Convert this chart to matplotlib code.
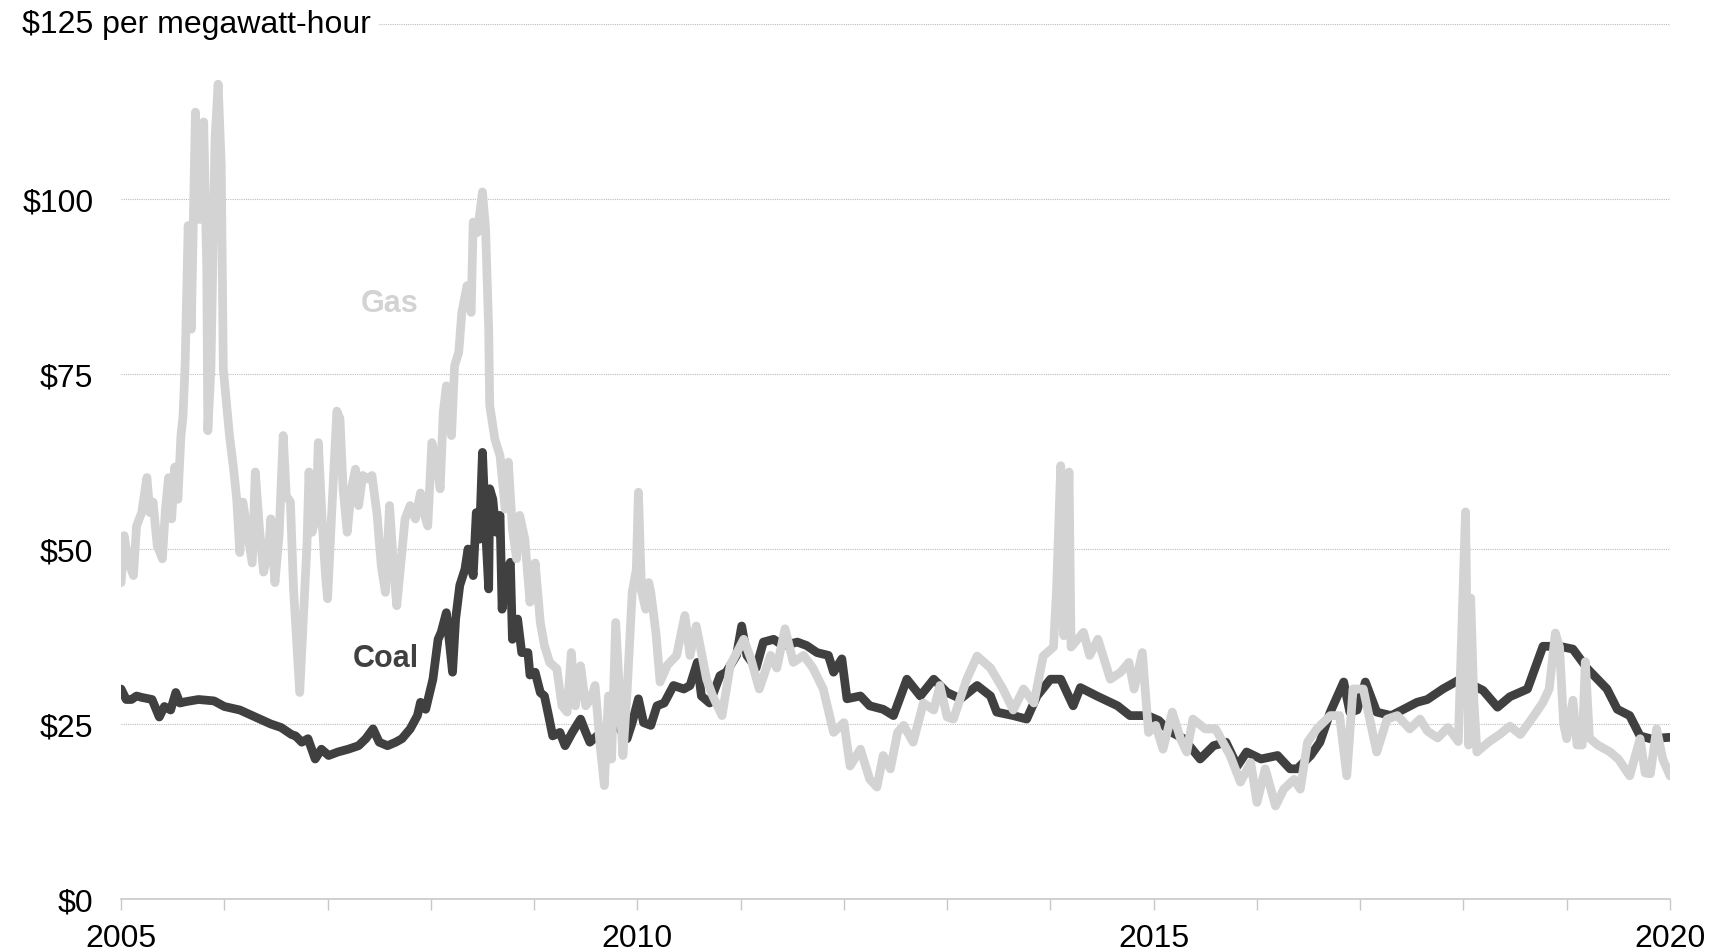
import matplotlib.pyplot as plt
import numpy as np

plt.rcParams['font.family'] = ['Liberation Sans', 'DejaVu Sans']

# values (year, $ per MWh)
gas_years = [
    2005.00, 2005.03, 2005.07, 2005.12, 2005.15, 2005.20, 2005.25, 2005.28, 2005.31, 2005.35,
    2005.40, 2005.43, 2005.46, 2005.49, 2005.52, 2005.55, 2005.58, 2005.60, 2005.62, 2005.65,
    2005.68, 2005.70, 2005.72, 2005.74, 2005.77, 2005.80, 2005.83, 2005.84, 2005.87, 2005.89,
    2005.91, 2005.94, 2005.97, 2005.99, 2006.02, 2006.05, 2006.09, 2006.12, 2006.15, 2006.18,
    2006.23, 2006.27, 2006.30, 2006.34, 2006.38, 2006.43, 2006.45, 2006.49, 2006.53, 2006.57,
    2006.60, 2006.64, 2006.67, 2006.73, 2006.76, 2006.80, 2006.82, 2006.85, 2006.89, 2006.91,
    2006.95, 2006.98, 2007.00, 2007.04, 2007.09, 2007.12, 2007.15, 2007.19, 2007.23, 2007.27,
    2007.30, 2007.34, 2007.39, 2007.43, 2007.48, 2007.52, 2007.56, 2007.60, 2007.64, 2007.67,
    2007.71, 2007.75, 2007.80, 2007.85, 2007.90, 2007.94, 2007.97, 2008.01, 2008.06, 2008.09,
    2008.12, 2008.15, 2008.20, 2008.23, 2008.27, 2008.30, 2008.35, 2008.39, 2008.41, 2008.45,
    2008.50, 2008.53, 2008.56, 2008.57, 2008.62, 2008.67, 2008.72, 2008.75, 2008.79, 2008.83,
    2008.86, 2008.91, 2008.96, 2009.01, 2009.06, 2009.10, 2009.15, 2009.22, 2009.27, 2009.32,
    2009.36, 2009.40, 2009.45, 2009.50, 2009.55, 2009.59, 2009.64, 2009.68, 2009.72, 2009.75,
    2009.79, 2009.83, 2009.86, 2009.90, 2009.95, 2009.99, 2010.01, 2010.04, 2010.08, 2010.11,
    2010.13, 2010.18, 2010.22, 2010.29, 2010.38, 2010.46, 2010.51, 2010.57, 2010.67, 2010.73,
    2010.82, 2010.90, 2011.03, 2011.10, 2011.18, 2011.29, 2011.35, 2011.43, 2011.51, 2011.61,
    2011.70, 2011.80, 2011.90, 2012.00, 2012.06, 2012.16, 2012.25, 2012.32, 2012.38, 2012.45,
    2012.52, 2012.58, 2012.67, 2012.77, 2012.87, 2012.93, 2013.00, 2013.06, 2013.19, 2013.29,
    2013.42, 2013.54, 2013.64, 2013.74, 2013.84, 2013.93, 2014.03, 2014.06, 2014.10, 2014.13,
    2014.18, 2014.20, 2014.32, 2014.38, 2014.46, 2014.58, 2014.68, 2014.76, 2014.81, 2014.89,
    2014.95, 2015.02, 2015.09, 2015.18, 2015.26, 2015.32, 2015.38, 2015.50, 2015.60, 2015.74,
    2015.84, 2015.94, 2016.00, 2016.08, 2016.18, 2016.26, 2016.36, 2016.42, 2016.49, 2016.58,
    2016.71, 2016.80, 2016.87, 2016.93, 2017.03, 2017.16, 2017.26, 2017.36, 2017.48, 2017.58,
    2017.65, 2017.75, 2017.85, 2017.95, 2018.02, 2018.05, 2018.07, 2018.10, 2018.13, 2018.25,
    2018.35, 2018.45, 2018.55, 2018.65, 2018.72, 2018.77, 2018.83, 2018.89, 2018.93, 2018.97,
    2019.00, 2019.06, 2019.10, 2019.15, 2019.18, 2019.22, 2019.30, 2019.42, 2019.50, 2019.61,
    2019.71, 2019.76, 2019.81, 2019.87, 2019.93, 2020.00,
]
gas_values = [
    45.2, 51.9, 48.1, 46.2, 53.3, 55.2, 60.2, 55.2, 56.7, 50.5,
    48.6, 55.7, 60.2, 54.3, 61.7, 57.1, 66.2, 69.0, 76.2, 96.2,
    81.4, 96.7, 112.4, 97.1, 97.1, 111.0, 90.0, 66.9, 75.7, 92.4,
    108.6, 116.4, 104.8, 75.7, 71.0, 66.2, 61.4, 57.1, 49.5, 56.7,
    51.9, 48.0, 61.0, 52.9, 46.7, 50.0, 54.3, 45.2, 51.9, 66.2,
    57.6, 56.7, 44.3, 29.5, 38.6, 50.5, 61.0, 52.4, 54.8, 65.2,
    53.3, 46.2, 42.9, 55.2, 69.7, 68.6, 58.6, 52.4, 58.6, 61.4,
    56.2, 60.5, 60.0, 60.5, 54.8, 47.6, 43.8, 56.2, 47.1, 41.9,
    48.1, 54.3, 56.2, 54.3, 58.0, 54.8, 53.3, 65.2, 61.9, 58.6,
    69.5, 73.3, 66.2, 76.2, 78.1, 83.8, 87.6, 83.8, 96.7, 95.2,
    101.0, 95.7, 81.4, 70.5, 65.7, 63.3, 55.7, 62.4, 52.9, 48.6,
    54.8, 51.4, 42.4, 48.0, 39.5, 36.2, 33.8, 32.9, 27.6, 26.7,
    35.2, 27.6, 33.3, 27.6, 28.6, 30.5, 21.9, 16.2, 29.0, 20.0,
    39.5, 28.6, 20.5, 29.5, 43.8, 47.1, 58.1, 44.0, 41.4, 45.2,
    43.8, 38.0, 31.0, 33.4, 34.8, 40.5, 34.8, 39.0, 31.4, 29.0,
    26.2, 33.4, 37.1, 34.3, 30.0, 34.8, 33.0, 38.6, 33.8, 34.8,
    33.0, 30.0, 23.8, 25.2, 19.0, 21.4, 17.1, 16.0, 20.5, 18.6,
    23.8, 24.8, 22.4, 28.0, 27.0, 30.5, 26.0, 25.7, 31.4, 34.7,
    33.0, 30.0, 27.0, 30.0, 28.0, 34.7, 36.0, 44.3, 61.9, 37.6,
    61.0, 36.0, 38.1, 34.8, 37.1, 31.4, 32.4, 33.8, 30.0, 35.2,
    23.8, 24.8, 21.4, 26.7, 22.9, 21.0, 25.7, 24.3, 24.3, 20.5,
    16.7, 19.5, 13.8, 18.6, 13.3, 15.7, 17.1, 15.7, 22.4, 24.3,
    26.2, 26.2, 17.6, 30.0, 30.0, 21.0, 25.7, 26.2, 24.3, 25.7,
    24.0, 23.0, 24.5, 22.5, 55.3, 22.0, 43.0, 28.6, 21.0, 22.5,
    23.5, 24.7, 23.5, 25.5, 27.0, 28.1, 30.0, 38.0, 36.0, 25.0,
    22.9, 28.4, 22.0, 22.0, 33.9, 23.0, 22.0, 21.0, 20.0, 17.6,
    22.9, 18.0, 17.9, 24.3, 20.0, 17.6,
]

coal_years = [
    2005.00, 2005.05, 2005.10, 2005.15, 2005.20, 2005.30, 2005.37, 2005.42, 2005.48, 2005.53,
    2005.57, 2005.63, 2005.75, 2005.90, 2006.00, 2006.15, 2006.30, 2006.45, 2006.55, 2006.65,
    2006.69, 2006.75, 2006.81, 2006.88, 2006.94, 2007.01, 2007.10, 2007.20, 2007.30, 2007.37,
    2007.44, 2007.50, 2007.58, 2007.66, 2007.72, 2007.80, 2007.87, 2007.90, 2007.95, 2008.02,
    2008.07, 2008.10, 2008.15, 2008.18, 2008.21, 2008.24, 2008.28, 2008.33, 2008.36, 2008.41,
    2008.44, 2008.47, 2008.50, 2008.53, 2008.56, 2008.57, 2008.60, 2008.63, 2008.67, 2008.69,
    2008.73, 2008.77, 2008.79, 2008.84, 2008.88, 2008.94, 2008.96, 2009.01, 2009.06, 2009.10,
    2009.14, 2009.18, 2009.25, 2009.30, 2009.37, 2009.45, 2009.50, 2009.54, 2009.61, 2009.67,
    2009.75, 2009.80, 2009.83, 2009.90, 2009.95, 2010.01, 2010.06, 2010.13, 2010.19, 2010.26,
    2010.35, 2010.45, 2010.51, 2010.58, 2010.62, 2010.70, 2010.80, 2010.86, 2010.96, 2011.01,
    2011.06, 2011.15, 2011.22, 2011.32, 2011.41, 2011.55, 2011.64, 2011.74, 2011.85, 2011.90,
    2011.98, 2012.03, 2012.16, 2012.25, 2012.38, 2012.48, 2012.61, 2012.74, 2012.87, 2013.00,
    2013.13, 2013.29, 2013.42, 2013.48, 2013.64, 2013.77, 2013.87, 2014.00, 2014.10, 2014.22,
    2014.29, 2014.45, 2014.65, 2014.77, 2014.94, 2015.05, 2015.15, 2015.29, 2015.45, 2015.58,
    2015.70, 2015.81, 2015.90, 2016.04, 2016.20, 2016.32, 2016.39, 2016.52, 2016.61, 2016.71,
    2016.84, 2016.90, 2016.97, 2017.05, 2017.16, 2017.30, 2017.42, 2017.55, 2017.65, 2017.80,
    2017.97, 2018.19, 2018.33, 2018.45, 2018.62, 2018.77, 2018.93, 2019.06, 2019.20, 2019.39,
    2019.49, 2019.61, 2019.71, 2019.81, 2020.00,
]
coal_values = [
    30.0, 28.5, 28.5, 29.0, 28.8, 28.5, 26.0, 27.5, 27.0, 29.5,
    28.0, 28.2, 28.5, 28.3, 27.5, 27.0, 26.0, 25.0, 24.5, 23.5,
    23.3, 22.4, 22.9, 20.0, 21.4, 20.5, 21.0, 21.4, 21.9, 22.9,
    24.3, 22.4, 21.9, 22.4, 22.9, 24.3, 26.2, 28.1, 27.1, 31.4,
    37.1, 38.1, 40.9, 36.7, 32.4, 40.0, 44.8, 47.1, 50.0, 46.2,
    55.2, 51.4, 63.8, 52.9, 44.3, 58.6, 57.1, 52.4, 54.8, 41.4,
    46.7, 48.1, 37.1, 40.0, 35.2, 35.2, 32.0, 32.4, 29.5, 29.0,
    26.2, 23.3, 23.8, 21.9, 23.8, 25.7, 23.8, 22.4, 23.3, 24.3,
    24.8, 26.7, 24.3, 22.9, 25.2, 28.6, 25.2, 24.8, 27.6, 28.0,
    30.5, 30.0, 30.5, 33.8, 29.0, 28.0, 31.9, 32.4, 34.8, 39.0,
    34.8, 33.0, 36.7, 37.1, 36.2, 36.7, 36.2, 35.2, 34.8, 32.4,
    34.3, 28.6, 29.0, 27.6, 27.1, 26.2, 31.4, 29.0, 31.4, 29.5,
    28.6, 30.5, 29.0, 26.7, 26.2, 25.7, 29.0, 31.4, 31.4, 27.6,
    30.2, 29.0, 27.6, 26.2, 26.2, 25.5, 24.0, 22.9, 20.0, 21.9,
    22.4, 19.0, 21.0, 20.0, 20.5, 18.6, 18.6, 20.5, 22.4, 26.7,
    31.0, 26.7, 27.0, 31.0, 26.7, 26.2, 27.1, 28.1, 28.5, 30.0,
    31.4, 29.8, 27.4, 28.9, 30.0, 36.1, 36.1, 35.7, 32.9, 30.0,
    27.1, 26.2, 23.3, 22.9, 23.1,
]

y_ticks = [0, 25, 50, 75, 100]
y_tick_labels = ['$0', '$25', '$50', '$75', '$100']
x_ticks = [2005, 2010, 2015, 2020]

fig = plt.figure(figsize=(17.1, 9.53), dpi=100)
ax = fig.add_axes([0.0708, 0.0556, 0.9058, 0.9182])

ax.plot(coal_years, coal_values, color='#404040', lw=6.3,
        solid_joinstyle='round', solid_capstyle='round', zorder=3)
ax.plot(gas_years, gas_values, color='#d3d3d3', lw=6.3,
        solid_joinstyle='round', solid_capstyle='round', zorder=4)

ax.set_xlim(2005, 2020)
ax.set_ylim(0, 125)

# dotted gridlines
for v in [25, 50, 75, 100, 125]:
    ax.axhline(v, color='#bdbdbd', lw=0.8, ls=(0, (1, 1)), zorder=1)

ax.set_yticks(y_ticks)
ax.set_yticklabels(y_tick_labels, fontsize=23)
ax.tick_params(axis='y', length=0, pad=20)
ax.set_xticks(x_ticks)
ax.set_xticklabels([str(t) for t in x_ticks], fontsize=23)
ax.set_xticks(list(range(2005, 2021)), minor=True)
ax.tick_params(axis='x', which='both', length=8, color='#c8c8c8', width=1, pad=9)

for s in ['top', 'right', 'left']:
    ax.spines[s].set_visible(False)
ax.spines['bottom'].set_color('#c8c8c8')
ax.spines['bottom'].set_linewidth(1.2)

ax.text(-0.0639, 125, '$125 per megawatt-hour', transform=ax.get_yaxis_transform(),
        fontsize=23, ha='left', va='center', zorder=5,
        bbox=dict(facecolor='white', edgecolor='none', pad=6))

ax.text(2007.6, 85.2, 'Gas', color='#d3d3d3', fontsize=22, fontweight='bold',
        ha='center', va='center', zorder=6)
ax.text(2007.56, 34.4, 'Coal', color='#404040', fontsize=22, fontweight='bold',
        ha='center', va='center', zorder=6)

fig.savefig('out.png', dpi=100)
